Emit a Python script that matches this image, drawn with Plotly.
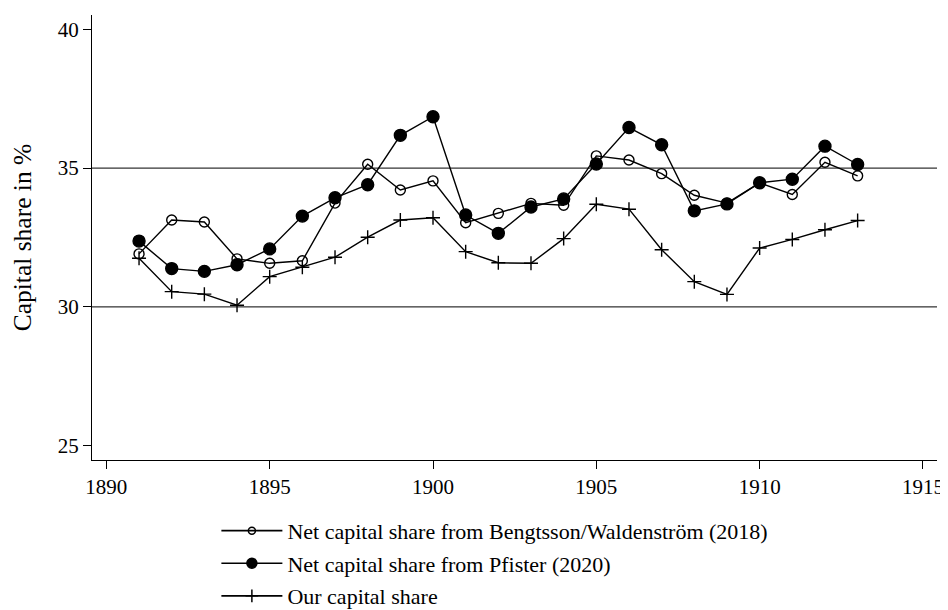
import plotly.graph_objects as go

# ===================== 数据 =====================
years = list(range(1891, 1914))

bengtsson = [31.91, 33.13, 33.06, 31.73, 31.57, 31.66, 33.74, 35.14, 34.21, 34.54,
             33.03, 33.37, 33.73, 33.66, 35.44, 35.29, 34.80, 34.02, 33.74, 34.47,
             34.05, 35.21, 34.72]
pfister = [32.37, 31.38, 31.28, 31.52, 32.09, 33.27, 33.93, 34.40, 36.18, 36.85,
           33.31, 32.65, 33.60, 33.89, 35.15, 36.46, 35.84, 33.46, 33.71, 34.47,
           34.60, 35.79, 35.13]
ours = [31.75, 30.55, 30.46, 30.06, 31.09, 31.43, 31.79, 32.51, 33.13, 33.21,
        31.99, 31.59, 31.57, 32.46, 33.70, 33.52, 32.06, 30.91, 30.45, 32.12,
        32.43, 32.78, 33.11]

names = [
    "Net capital share from Bengtsson/Waldenström (2018)",
    "Net capital share from Pfister (2020)",
    "Our capital share",
]

x_ticks = [1890, 1895, 1900, 1905, 1910, 1915]
y_ticks = [25, 30, 35, 40]
grid_lines = [30, 35]

FONT = "Liberation Serif, Times New Roman, serif"

# 图里的标记 / 图例里的小标记
symbols = ["circle-open", "circle", "cross-thin"]
plot_sizes = [10, 12, 10]
legend_sizes = [7, 10, 9]

fig = go.Figure()

for series, name, sym, ps in zip([bengtsson, pfister, ours], names, symbols, plot_sizes):
    fig.add_trace(go.Scatter(
        x=years, y=series, mode="lines+markers", name=name, showlegend=False,
        line=dict(color="black", width=1.4),
        marker=dict(symbol=sym, size=ps, color="black", line=dict(width=1.4, color="black")),
    ))

for i, (name, sym, ls) in enumerate(zip(names, symbols, legend_sizes)):
    fig.add_trace(go.Scatter(
        x=[None], y=[None], mode="lines+markers", name=name, legendgroup=str(i),
        line=dict(color="black", width=1.6),
        marker=dict(symbol=sym, size=ls, color="black", line=dict(width=1.5, color="black")),
    ))

# 水平参考线（只在 30 和 35）
for g in grid_lines:
    fig.add_shape(type="line", xref="paper", yref="y", x0=0, x1=1, y0=g, y1=g,
                  line=dict(color="black", width=1), layer="below")

# 页面 body 有 8px 默认边距；画布往下加高，免得图例把绘图区挤小
fig.update_layout(
    width=940,
    height=640,
    paper_bgcolor="white",
    plot_bgcolor="white",
    font=dict(family=FONT, size=21, color="black"),
    margin=dict(l=84, r=11, t=7, b=188),
    showlegend=True,
    legend=dict(
        x=0.1472, y=-0.112, xanchor="left", yanchor="top",
        font=dict(size=22), bgcolor="rgba(0,0,0,0)",
        traceorder="grouped", tracegroupgap=1, itemwidth=61,
    ),
    xaxis=dict(
        range=[1889.56, 1915.43],
        tickvals=x_ticks,
        ticks="outside", ticklen=8, tickcolor="black", tickwidth=1,
        showline=True, linecolor="black", linewidth=1,
        showgrid=False, zeroline=False, automargin=False,
    ),
    yaxis=dict(
        title=dict(text="Capital share in %", font=dict(size=25.5), standoff=19),
        range=[24.485, 40.515],
        tickvals=y_ticks,
        ticks="outside", ticklen=8, tickcolor="black", tickwidth=1,
        showline=True, linecolor="black", linewidth=1,
        showgrid=False, zeroline=False, automargin=False,
    ),
)

fig.write_html("out.html")
